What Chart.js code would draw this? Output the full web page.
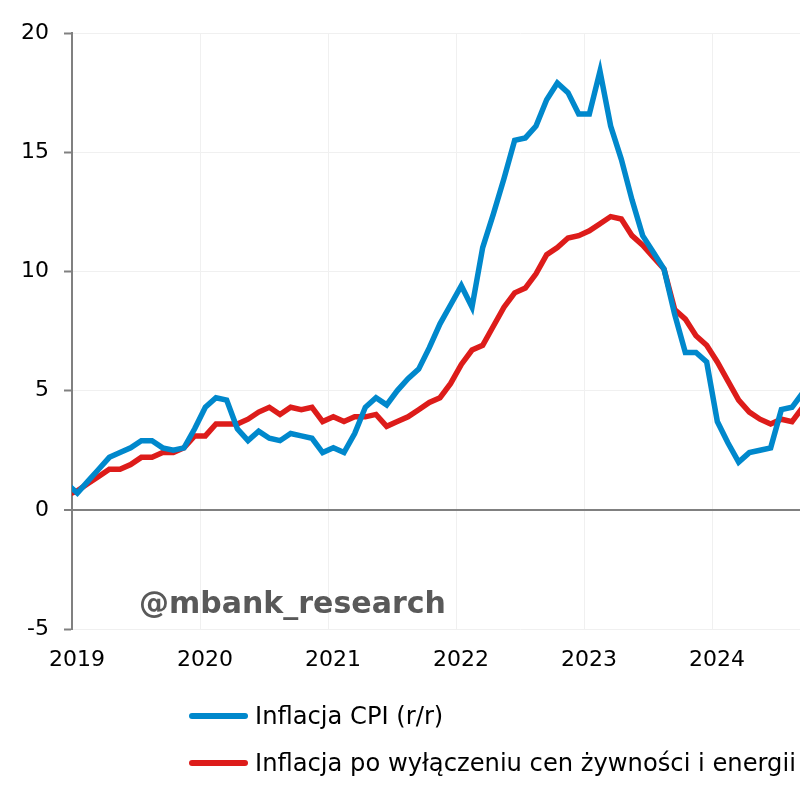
<!DOCTYPE html>
<html>
<head>
<meta charset="utf-8">
<script src="https://cdn.jsdelivr.net/npm/chart.js@4.4.0/dist/chart.umd.min.js"></script>
<style>
  body { margin: 0; background: #fff; }
  #wrap { position: relative; width: 800px; height: 800px; overflow: hidden; }
  #chart { position: absolute; left: 0; top: 0; }
  .legend-row {
    position: absolute; left: 189px; height: 30px;
    display: flex; align-items: center; white-space: nowrap;
    font-family: "DejaVu Sans", sans-serif; font-size: 24.2px; color: #000;
  }
  .legend-line { width: 59px; height: 6px; border-radius: 3px; margin-right: 7px; }
</style>
</head>
<body>
<div id="wrap">
  <canvas id="chart" width="1000" height="800"></canvas>
  <div class="legend-row" style="top: 701px;">
    <span class="legend-line" style="background: #0088cc;"></span><span id="lbl-cpi"></span>
  </div>
  <div class="legend-row" style="top: 748px;">
    <span class="legend-line" style="background: #dd1c1a;"></span><span id="lbl-core"></span>
  </div>
</div>
<script>
const CPI_LABEL = "Inflacja CPI (r/r)";
const CORE_LABEL = "Inflacja po wyłączeniu cen żywności i energii (r/r)";

const YEARS = ["2019", "2020", "2021", "2022", "2023", "2024", "2025"];

// months from Dec 2018 to Sep 2024
const MONTHS = [
  "2018-12",
  "2019-01", "2019-02", "2019-03", "2019-04", "2019-05", "2019-06",
  "2019-07", "2019-08", "2019-09", "2019-10", "2019-11", "2019-12",
  "2020-01", "2020-02", "2020-03", "2020-04", "2020-05", "2020-06",
  "2020-07", "2020-08", "2020-09", "2020-10", "2020-11", "2020-12",
  "2021-01", "2021-02", "2021-03", "2021-04", "2021-05", "2021-06",
  "2021-07", "2021-08", "2021-09", "2021-10", "2021-11", "2021-12",
  "2022-01", "2022-02", "2022-03", "2022-04", "2022-05", "2022-06",
  "2022-07", "2022-08", "2022-09", "2022-10", "2022-11", "2022-12",
  "2023-01", "2023-02", "2023-03", "2023-04", "2023-05", "2023-06",
  "2023-07", "2023-08", "2023-09", "2023-10", "2023-11", "2023-12",
  "2024-01", "2024-02", "2024-03", "2024-04", "2024-05", "2024-06",
  "2024-07", "2024-08", "2024-09",
];

const CPI = [
  1.1,
  0.7, 1.2, 1.7, 2.2, 2.4, 2.6, 2.9, 2.9, 2.6, 2.5, 2.6, 3.4,
  4.3, 4.7, 4.6, 3.4, 2.9, 3.3, 3.0, 2.9, 3.2, 3.1, 3.0, 2.4,
  2.6, 2.4, 3.2, 4.3, 4.7, 4.4, 5.0, 5.5, 5.9, 6.8, 7.8, 8.6,
  9.4, 8.5, 11.0, 12.4, 13.9, 15.5, 15.6, 16.1, 17.2, 17.9, 17.5, 16.6,
  16.6, 18.4, 16.1, 14.7, 13.0, 11.5, 10.8, 10.1, 8.2, 6.6, 6.6, 6.2,
  3.7, 2.8, 2.0, 2.4, 2.5, 2.6, 4.2, 4.3, 4.9,
];

const CORE = [
  0.6,
  0.8, 1.1, 1.4, 1.7, 1.7, 1.9, 2.2, 2.2, 2.4, 2.4, 2.6, 3.1,
  3.1, 3.6, 3.6, 3.6, 3.8, 4.1, 4.3, 4.0, 4.3, 4.2, 4.3, 3.7,
  3.9, 3.7, 3.9, 3.9, 4.0, 3.5, 3.7, 3.9, 4.2, 4.5, 4.7, 5.3,
  6.1, 6.7, 6.9, 7.7, 8.5, 9.1, 9.3, 9.9, 10.7, 11.0, 11.4, 11.5,
  11.7, 12.0, 12.3, 12.2, 11.5, 11.1, 10.6, 10.1, 8.4, 8.0, 7.3, 6.9,
  6.2, 5.4, 4.6, 4.1, 3.8, 3.6, 3.8, 3.7, 4.3,
];

document.getElementById("lbl-cpi").textContent = CPI_LABEL;
document.getElementById("lbl-core").textContent = CORE_LABEL;

// month "YYYY-MM" -> months since Jan 2019, placed mid-month
function monthPos(m) {
  const [y, mo] = m.split("-").map(Number);
  return (y - 2019) * 12 + (mo - 1) + 0.5;
}

const toPoints = (values) => values.map((v, i) => ({ x: monthPos(MONTHS[i]), y: v }));

const FONT = "DejaVu Sans";
const GRID = "#f0f0f0";
const AXIS = "#808080";

const watermark = {
  id: "watermark",
  afterDatasetsDraw(chart) {
    const { ctx, chartArea } = chart;
    ctx.save();
    ctx.font = `bold 30px "${FONT}"`;
    ctx.fillStyle = "#595959";
    ctx.textBaseline = "alphabetic";
    ctx.fillText("@mbank_research", chartArea.left + 67, chartArea.bottom - 16);
    ctx.restore();
  },
};

new Chart(document.getElementById("chart"), {
  type: "line",
  data: {
    datasets: [
      {
        label: CPI_LABEL,
        data: toPoints(CPI),
        borderColor: "#0088cc",
        borderWidth: 5.5,
        pointRadius: 0,
        tension: 0,
        clip: 0,
      },
      {
        label: CORE_LABEL,
        data: toPoints(CORE),
        borderColor: "#dd1c1a",
        borderWidth: 5.5,
        pointRadius: 0,
        tension: 0,
        clip: 0,
      },
    ],
  },
  options: {
    responsive: false,
    animation: false,
    layout: { padding: { top: 33, left: 0, right: 32, bottom: 120 } },
    plugins: {
      legend: { display: false },
      tooltip: { enabled: false },
    },
    scales: {
      x: {
        type: "linear",
        min: 0,
        max: 84,
        afterFit: (s) => { s.height = 51; },
        border: { display: false },
        grid: {
          color: (c) => (c.tick && c.tick.value === 0 ? "rgba(0,0,0,0)" : GRID),
          drawTicks: false,
        },
        ticks: {
          stepSize: 12,
          padding: 18,
          labelOffset: 5,
          color: "#000",
          font: { family: FONT, size: 22 },
          callback: (v) => YEARS[v / 12],
        },
      },
      y: {
        min: -5,
        max: 20,
        afterFit: (s) => { s.width = 72; },
        border: { color: AXIS, width: 2 },
        grid: {
          color: (c) => (c.tick && c.tick.value === 0 ? AXIS : GRID),
          lineWidth: (c) => (c.tick && c.tick.value === 0 ? 2 : 1),
          tickColor: AXIS,
          tickLength: 8,
          tickWidth: 2,
        },
        ticks: {
          stepSize: 5,
          padding: 15,
          color: "#000",
          font: { family: FONT, size: 22 },
        },
      },
    },
  },
  plugins: [watermark],
});
</script>
</body>
</html>
